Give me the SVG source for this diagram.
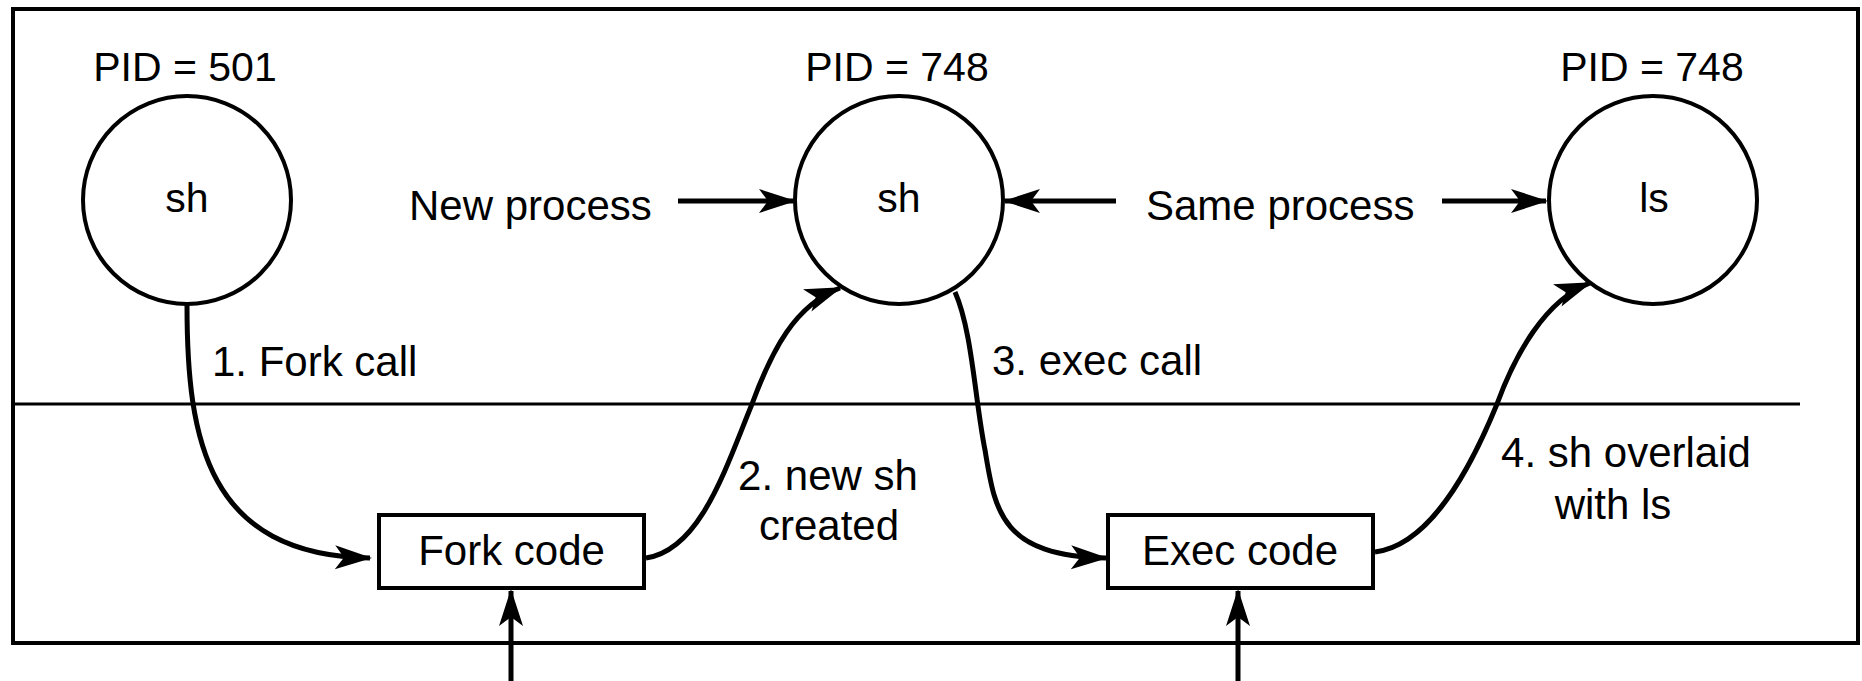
<svg xmlns="http://www.w3.org/2000/svg" width="1862" height="681" viewBox="0 0 1862 681">
<style>
  .lbl { font-family: "Liberation Sans", Arial, sans-serif; font-size: 42px; fill: #000; }
  .pid { font-family: "Liberation Sans", Arial, sans-serif; font-size: 41px; fill: #000; text-anchor: middle; }
  .inner { font-family: "Liberation Sans", Arial, sans-serif; font-size: 41px; fill: #000; text-anchor: middle; }
  .mid { text-anchor: middle; }
  .shape { fill: #fff; stroke: #000; stroke-width: 4; }
  .conn { fill: none; stroke: #000; stroke-width: 5; marker-end: url(#ah); }
</style>
<defs>
  <marker id="ah" markerUnits="userSpaceOnUse" markerWidth="42" markerHeight="30" viewBox="-38 -15 42 30" refX="0" refY="0" orient="auto">
    <path d="M2,0 L-35,-12 L-26,0 L-35,12 Z" fill="#000"/>
  </marker>
</defs>
<rect width="1862" height="681" fill="#fff"/>
<g id="frame">
  <rect x="13" y="9" width="1845" height="634" fill="none" stroke="#000" stroke-width="4"/>
  <line x1="13" y1="404" x2="1800" y2="404" stroke="#000" stroke-width="3"/>
</g>
<g id="proc501">
  <text class="pid" x="185" y="81">PID = 501</text>
  <circle class="shape" cx="187" cy="200" r="104"/>
  <text class="inner" x="187" y="212">sh</text>
</g>
<g id="proc748sh">
  <text class="pid" x="897" y="81">PID = 748</text>
  <circle class="shape" cx="899" cy="200" r="104"/>
  <text class="inner" x="899" y="212">sh</text>
</g>
<g id="proc748ls">
  <text class="pid" x="1652" y="81">PID = 748</text>
  <circle class="shape" cx="1653" cy="200" r="104"/>
  <text class="inner" x="1654" y="212">ls</text>
</g>
<g id="forkcode">
  <rect class="shape" x="379" y="515" width="265" height="73"/>
  <text class="lbl mid" x="511.5" y="565">Fork code</text>
</g>
<g id="execcode">
  <rect class="shape" x="1108" y="515" width="265" height="73"/>
  <text class="lbl mid" x="1240" y="565">Exec code</text>
</g>
<g id="labels">
  <text class="lbl" x="409" y="220">New process</text>
  <text class="lbl" x="1146" y="220">Same process</text>
  <text class="lbl" x="212" y="376">1. Fork call</text>
  <text class="lbl" x="992" y="375">3. exec call</text>
  <text class="lbl mid" x="828" y="490">2. new sh</text>
  <text class="lbl mid" x="829" y="540">created</text>
  <text class="lbl mid" x="1626" y="467">4. sh overlaid</text>
  <text class="lbl mid" x="1613" y="519">with ls</text>
</g>
<g id="connectors">
  <path class="conn" d="M678 201 L794 201"/>
  <path class="conn" d="M1116 201 L1005 201"/>
  <path class="conn" d="M1442 201 L1546 201"/>
  <path class="conn" d="M187 305 C187 440 207 555 370 558"/>
  <path class="conn" d="M646 558 C700 550 725 470 752 404 C772 350 795 305 840 288"/>
  <path class="conn" d="M955 292 C972 330 975 400 985 450 C995 510 1000 556 1106 558"/>
  <path class="conn" d="M1375 552 C1430 545 1470 470 1497 404 C1515 355 1545 300 1590 283"/>
  <path class="conn" d="M511 681 L511 591"/>
  <path class="conn" d="M1238 681 L1238 591"/>
</g>
</svg>
